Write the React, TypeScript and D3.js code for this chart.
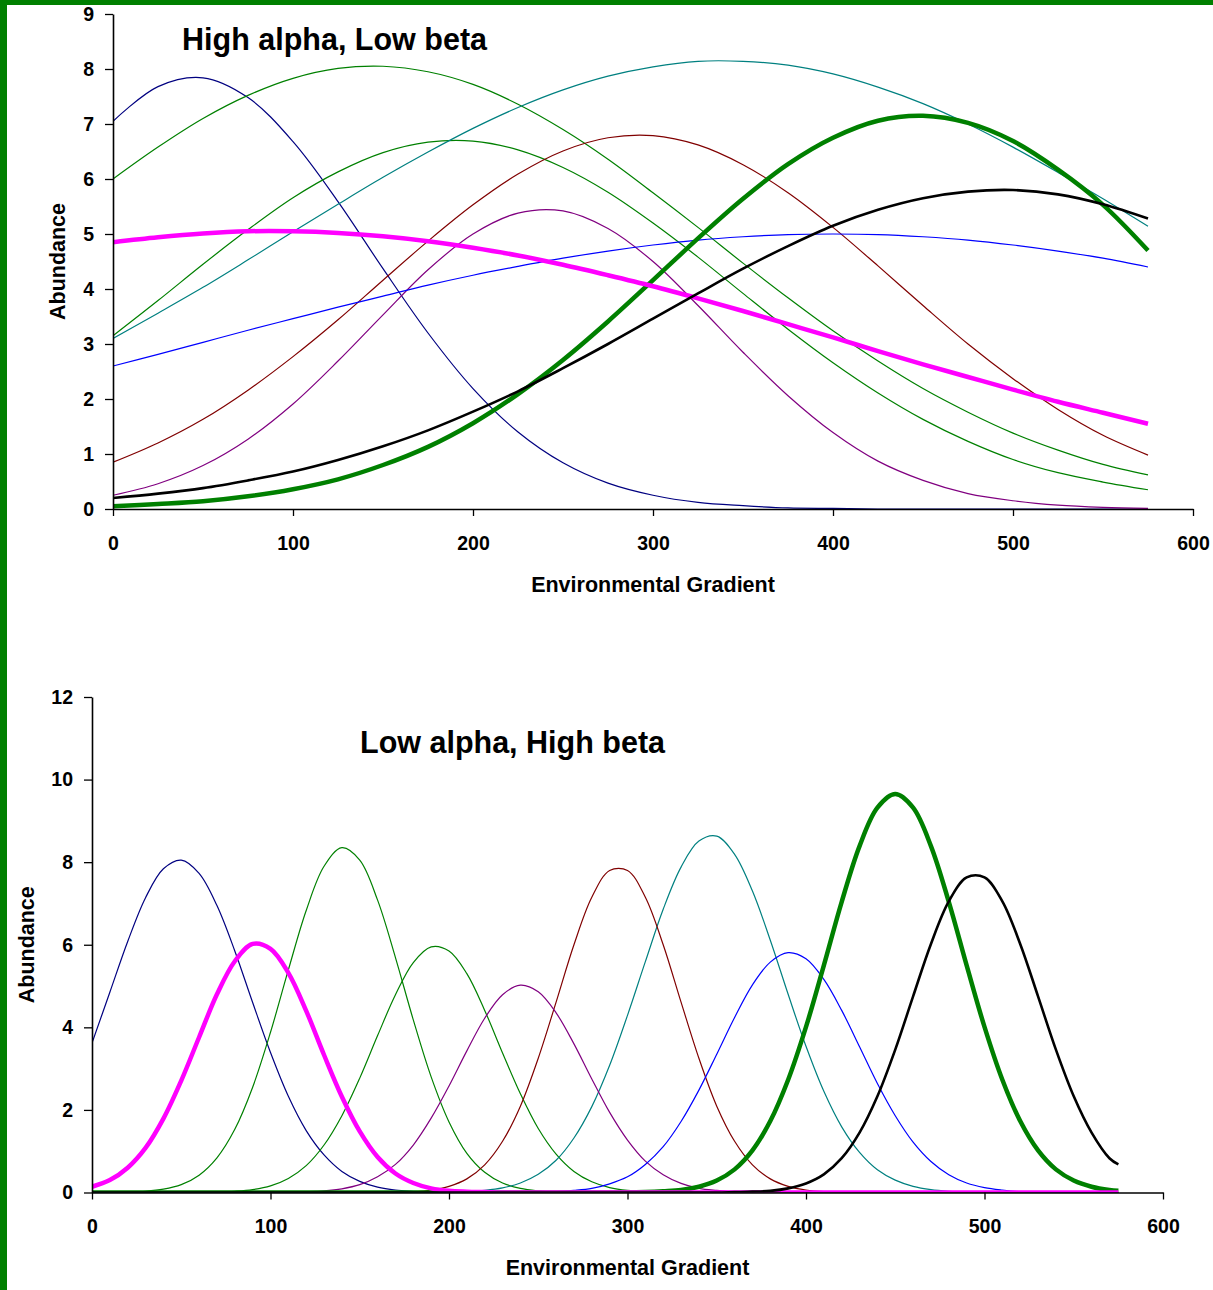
import * as d3 from "d3";
import React, { useEffect, useRef } from "react";

// ---------- top chart: High alpha, Low beta (sampled every 25 units) ----------
const highX = [0, 25, 50, 75, 100, 125, 150, 175, 200, 225, 250, 275, 300, 325, 350, 375, 400, 425, 450, 475, 500, 525, 550, 575];
const highYTicks = [0, 1, 2, 3, 4, 5, 6, 7, 8, 9];
const xTicks = [0, 100, 200, 300, 400, 500, 600];

const highNavy = [7.05, 7.68, 7.84, 7.48, 6.68, 5.59, 4.37, 3.2, 2.19, 1.4, 0.84, 0.47, 0.25, 0.12, 0.06, 0.02, 0.01, 0, 0, 0, 0, 0, 0, 0];
const highGreenA = [6.0, 6.58, 7.1, 7.52, 7.83, 8.01, 8.05, 7.95, 7.72, 7.36, 6.9, 6.36, 5.75, 5.12, 4.47, 3.84, 3.24, 2.69, 2.19, 1.76, 1.38, 1.07, 0.81, 0.62];
const highGreenB = [3.15, 3.79, 4.45, 5.08, 5.66, 6.13, 6.48, 6.67, 6.69, 6.53, 6.21, 5.76, 5.2, 4.58, 3.92, 3.27, 2.66, 2.11, 1.63, 1.23, 0.9, 0.66, 0.49, 0.35];
const highTeal = [3.1, 3.56, 4.03, 4.53, 5.04, 5.54, 6.03, 6.49, 6.92, 7.3, 7.62, 7.87, 8.04, 8.14, 8.14, 8.07, 7.91, 7.67, 7.37, 7.0, 6.58, 6.12, 5.64, 5.14];
const highMaroon = [0.85, 1.2, 1.63, 2.16, 2.77, 3.44, 4.16, 4.87, 5.53, 6.09, 6.51, 6.75, 6.79, 6.62, 6.26, 5.75, 5.12, 4.42, 3.7, 3.0, 2.37, 1.81, 1.34, 0.98];
const highPurple = [0.25, 0.46, 0.79, 1.27, 1.91, 2.69, 3.53, 4.35, 5.0, 5.38, 5.42, 5.1, 4.5, 3.7, 2.85, 2.06, 1.39, 0.87, 0.52, 0.28, 0.15, 0.07, 0.03, 0.01];
const highBlue = [2.6, 2.81, 3.03, 3.25, 3.46, 3.67, 3.87, 4.07, 4.25, 4.41, 4.56, 4.69, 4.8, 4.89, 4.95, 4.99, 5.0, 4.99, 4.95, 4.89, 4.8, 4.69, 4.56, 4.4];
const highMagenta = [4.85, 4.94, 5.01, 5.05, 5.05, 5.02, 4.96, 4.87, 4.75, 4.61, 4.44, 4.25, 4.05, 3.83, 3.6, 3.36, 3.12, 2.87, 2.63, 2.4, 2.17, 1.95, 1.75, 1.55];
const highBlack = [0.2, 0.28, 0.38, 0.52, 0.68, 0.89, 1.14, 1.43, 1.77, 2.14, 2.56, 3.0, 3.46, 3.92, 4.37, 4.78, 5.15, 5.44, 5.65, 5.77, 5.8, 5.72, 5.54, 5.28];
const highGreenThick = [0.05, 0.09, 0.14, 0.23, 0.36, 0.54, 0.8, 1.13, 1.56, 2.09, 2.71, 3.41, 4.16, 4.92, 5.64, 6.27, 6.75, 7.06, 7.15, 7.02, 6.69, 6.17, 5.53, 4.7];

// ---------- bottom chart: Low alpha, High beta (sampled every 10 units, last at 575) ----------
const lowX = [...d3.range(0, 571, 10), 575];
const lowYTicks = [0, 2, 4, 6, 8, 10, 12];

const lowNavy = [
  3.62, 4.85, 6.08, 7.14, 7.84, 8.05, 7.73, 6.95, 5.85, 4.6,
  3.39, 2.33, 1.5, 0.91, 0.51, 0.27, 0.13, 0.06, 0.03, 0.01,
  0, 0, 0, 0, 0, 0, 0, 0, 0, 0,
  0, 0, 0, 0, 0, 0, 0, 0, 0, 0,
  0, 0, 0, 0, 0, 0, 0, 0, 0, 0,
  0, 0, 0, 0, 0, 0, 0, 0, 0,
];
const lowMagenta = [
  0.14, 0.3, 0.6, 1.08, 1.79, 2.71, 3.76, 4.8, 5.6, 6.02,
  5.9, 5.32, 4.4, 3.33, 2.32, 1.48, 0.86, 0.46, 0.23, 0.1,
  0.04, 0.02, 0.01, 0, 0, 0, 0, 0, 0, 0,
  0, 0, 0, 0, 0, 0, 0, 0, 0, 0,
  0, 0, 0, 0, 0, 0, 0, 0, 0, 0,
  0, 0, 0, 0, 0, 0, 0, 0, 0,
];
const lowGreenA = [
  0, 0, 0.01, 0.03, 0.08, 0.19, 0.42, 0.84, 1.53, 2.55,
  3.88, 5.39, 6.83, 7.9, 8.35, 8.05, 7.08, 5.69, 4.18, 2.8,
  1.71, 0.95, 0.49, 0.23, 0.1, 0.04, 0.01, 0, 0, 0,
  0, 0, 0, 0, 0, 0, 0, 0, 0, 0,
  0, 0, 0, 0, 0, 0, 0, 0, 0, 0,
  0, 0, 0, 0, 0, 0, 0, 0, 0,
];
const lowGreenB = [
  0, 0, 0, 0, 0, 0, 0, 0.01, 0.03, 0.07,
  0.16, 0.34, 0.65, 1.15, 1.86, 2.77, 3.8, 4.79, 5.57, 5.95,
  5.85, 5.3, 4.41, 3.38, 2.39, 1.55, 0.93, 0.51, 0.26, 0.12,
  0.05, 0.02, 0.01, 0, 0, 0, 0, 0, 0, 0,
  0, 0, 0, 0, 0, 0, 0, 0, 0, 0,
  0, 0, 0, 0, 0, 0, 0, 0, 0,
];
const lowPurple = [
  0, 0, 0, 0, 0, 0, 0, 0, 0, 0,
  0, 0.01, 0.02, 0.04, 0.09, 0.19, 0.38, 0.68, 1.15, 1.8,
  2.58, 3.43, 4.22, 4.79, 5.02, 4.86, 4.35, 3.6, 2.75, 1.94,
  1.27, 0.76, 0.43, 0.22, 0.1, 0.05, 0.02, 0.01, 0, 0,
  0, 0, 0, 0, 0, 0, 0, 0, 0, 0,
  0, 0, 0, 0, 0, 0, 0, 0, 0,
];
const lowMaroon = [
  0, 0, 0, 0, 0, 0, 0, 0, 0, 0,
  0, 0, 0, 0, 0, 0, 0, 0.01, 0.02, 0.06,
  0.15, 0.33, 0.67, 1.24, 2.09, 3.25, 4.61, 6.0, 7.15, 7.8,
  7.8, 7.15, 6.0, 4.61, 3.25, 2.09, 1.24, 0.67, 0.33, 0.15,
  0.06, 0.02, 0.01, 0, 0, 0, 0, 0, 0, 0,
  0, 0, 0, 0, 0, 0, 0, 0, 0,
];
const lowTeal = [
  0, 0, 0, 0, 0, 0, 0, 0, 0, 0,
  0, 0, 0, 0, 0, 0, 0, 0, 0, 0,
  0.01, 0.02, 0.05, 0.11, 0.23, 0.44, 0.78, 1.32, 2.08, 3.08,
  4.29, 5.59, 6.86, 7.88, 8.51, 8.63, 8.19, 7.3, 6.11, 4.8,
  3.54, 2.45, 1.59, 0.97, 0.55, 0.3, 0.15, 0.07, 0.03, 0.01,
  0, 0, 0, 0, 0, 0, 0, 0, 0,
];
const lowBlue = [
  0, 0, 0, 0, 0, 0, 0, 0, 0, 0,
  0, 0, 0, 0, 0, 0, 0, 0, 0, 0,
  0, 0, 0, 0, 0, 0.01, 0.02, 0.05, 0.1, 0.21,
  0.38, 0.68, 1.11, 1.72, 2.48, 3.35, 4.24, 5.03, 5.58, 5.81,
  5.66, 5.16, 4.41, 3.53, 2.64, 1.86, 1.22, 0.75, 0.43, 0.23,
  0.12, 0.06, 0.02, 0.01, 0, 0, 0, 0, 0,
];
const lowGreenThick = [
  0, 0, 0, 0, 0, 0, 0, 0, 0, 0,
  0, 0, 0, 0, 0, 0, 0, 0, 0, 0,
  0, 0, 0, 0, 0, 0, 0, 0, 0, 0,
  0, 0.01, 0.03, 0.06, 0.14, 0.29, 0.56, 1.02, 1.73, 2.73,
  4.01, 5.5, 7.04, 8.39, 9.32, 9.65, 9.32, 8.39, 7.04, 5.5,
  4.01, 2.73, 1.73, 1.02, 0.56, 0.29, 0.14, 0.06, 0.04,
];
const lowBlack = [
  0, 0, 0, 0, 0, 0, 0, 0, 0, 0,
  0, 0, 0, 0, 0, 0, 0, 0, 0, 0,
  0, 0, 0, 0, 0, 0, 0, 0, 0, 0,
  0, 0, 0, 0, 0, 0, 0.01, 0.02, 0.04, 0.1,
  0.22, 0.44, 0.83, 1.45, 2.33, 3.46, 4.75, 6.02, 7.05, 7.63,
  7.63, 7.05, 6.02, 4.75, 3.46, 2.33, 1.45, 0.83, 0.68,
];

// line styles, in drawing order (thin first, heavy on top)
const seriesStyles = [
  { color: "#000080", width: 1.2 },
  { color: "#008000", width: 1.2 },
  { color: "#008000", width: 1.2 },
  { color: "#008080", width: 1.2 },
  { color: "#800000", width: 1.2 },
  { color: "#800080", width: 1.2 },
  { color: "#0000FF", width: 1.2 },
  { color: "#008000", width: 4.5 },
  { color: "#FF00FF", width: 4.5 },
  { color: "#000000", width: 2.6 },
];

const highSeries = [highNavy, highGreenA, highGreenB, highTeal, highMaroon, highPurple, highBlue, highGreenThick, highMagenta, highBlack];
const lowSeries = [lowNavy, lowGreenA, lowGreenB, lowTeal, lowMaroon, lowPurple, lowBlue, lowGreenThick, lowMagenta, lowBlack];

const FONT = "'Liberation Sans', Arial, sans-serif";

function drawPanel(svg, opts) {
  const { id, xs, series, yMax, yTicks, xRange, yRange, title, titleX, titleY, xLabelY, yLabelX } = opts;
  const x = d3.scaleLinear().domain([0, 600]).range(xRange);
  const y = d3.scaleLinear().domain([0, yMax]).range(yRange);

  const g = svg.append("g");

  // Plot-area clip, so lines lying on zero only show above the axis
  g.append("clipPath")
    .attr("id", id)
    .append("rect")
    .attr("x", xRange[0])
    .attr("y", yRange[1] - 10)
    .attr("width", xRange[1] - xRange[0])
    .attr("height", yRange[0] - yRange[1] + 10);

  // Lines
  const line = d3.line()
    .x((d, i) => x(xs[i]))
    .y(d => y(Math.max(0, d)))
    .curve(d3.curveCatmullRom.alpha(0.5));

  const lines = g.append("g").attr("clip-path", `url(#${id})`);
  series.forEach((vals, k) => {
    lines.append("path")
      .datum(vals)
      .attr("fill", "none")
      .attr("stroke", seriesStyles[k].color)
      .attr("stroke-width", seriesStyles[k].width)
      .attr("stroke-linejoin", "round")
      .attr("d", line);
  });

  // Axes
  const yAxis = g.append("g")
    .attr("transform", `translate(${xRange[0]},0)`)
    .call(d3.axisLeft(y).tickValues(yTicks).tickSize(8).tickSizeOuter(0).tickPadding(11));
  const xAxis = g.append("g")
    .attr("transform", `translate(0,${yRange[0]})`)
    .call(d3.axisBottom(x).tickValues(xTicks).tickSize(7).tickSizeOuter(0).tickPadding(20));

  [yAxis, xAxis].forEach(a => {
    a.select(".domain").attr("stroke", "#000").attr("stroke-width", 1.6);
    a.selectAll(".tick line").attr("stroke", "#000").attr("stroke-width", 1.3);
    a.selectAll(".tick text")
      .attr("fill", "#000")
      .style("font-family", FONT)
      .style("font-size", "19.5px")
      .style("font-weight", "bold");
  });

  // Axis labels
  g.append("text")
    .attr("x", (xRange[0] + xRange[1]) / 2)
    .attr("y", xLabelY)
    .attr("text-anchor", "middle")
    .style("font-family", FONT)
    .style("font-size", "21.5px")
    .style("font-weight", "bold")
    .text("Environmental Gradient");

  g.append("text")
    .attr("transform", `translate(${yLabelX},${(yRange[0] + yRange[1]) / 2}) rotate(-90)`)
    .attr("text-anchor", "middle")
    .style("font-family", FONT)
    .style("font-size", "21.5px")
    .style("font-weight", "bold")
    .text("Abundance");

  // Title
  g.append("text")
    .attr("x", titleX)
    .attr("y", titleY)
    .style("font-family", FONT)
    .style("font-size", "30.5px")
    .style("font-weight", "bold")
    .text(title);
}

export default function App() {
  const svgRef = useRef();

  useEffect(() => {
    const svg = d3.select(svgRef.current);
    svg.selectAll("*").remove();

    svg.append("rect").attr("width", 1213).attr("height", 1290).attr("fill", "#fff");

    drawPanel(svg, {
      id: "clip-high",
      xs: highX, series: highSeries, yMax: 9, yTicks: highYTicks,
      xRange: [113, 1193], yRange: [509, 14],
      title: "High alpha, Low beta", titleX: 182, titleY: 50,
      xLabelY: 592, yLabelX: 65,
    });

    drawPanel(svg, {
      id: "clip-low",
      xs: lowX, series: lowSeries, yMax: 12, yTicks: lowYTicks,
      xRange: [92, 1163], yRange: [1192.5, 697],
      title: "Low alpha, High beta", titleX: 360, titleY: 753,
      xLabelY: 1275, yLabelX: 34,
    });

    // Green slide frame (left and top edges)
    svg.append("rect").attr("x", 0).attr("y", 0).attr("width", 7).attr("height", 1290).attr("fill", "#008000");
    svg.append("rect").attr("x", 0).attr("y", 0).attr("width", 1213).attr("height", 5).attr("fill", "#008000");
  }, []);

  return (
    <svg
      ref={svgRef}
      width={1213}
      height={1290}
      style={{ position: "absolute", left: 0, top: 0, display: "block" }}
    ></svg>
  );
}
